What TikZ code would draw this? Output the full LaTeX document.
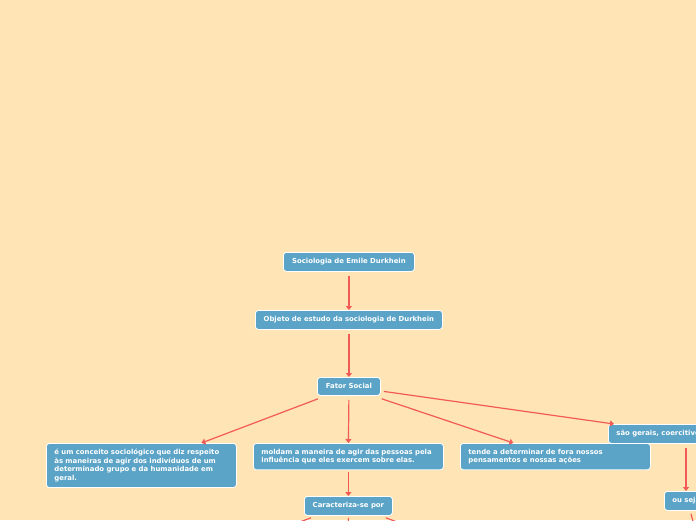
\documentclass[tikz,border=0pt]{standalone}
\usepackage{fontspec}
\setmainfont{DejaVu Sans}
\usetikzlibrary{arrows.meta}
\definecolor{bg}{HTML}{FFE4B5}
\definecolor{boxc}{HTML}{5BA4C7}
\definecolor{linec}{HTML}{F25A5A}
\newcommand\mbfont{\bfseries\fontsize{6.9}{8.7}\selectfont\hyphenpenalty=10000 \exhyphenpenalty=10000 \relax}
\tikzset{
 mbox/.style={fill=boxc, draw=white, line width=0.8pt, rounded corners=3pt, text=white,
   font=\mbfont, inner xsep=8pt, inner ysep=4.5pt, minimum height=19pt, anchor=north west},
 wbox/.style={mbox, text width=174pt, align=left, inner ysep=5.5pt},
 conn/.style={draw=linec, line width=1.2pt, -{Triangle[width=6pt,length=4pt]}},
}
\begin{document}
\begin{tikzpicture}[x=1pt,y=-1pt]
\useasboundingbox (0,0) rectangle (696,520);
\fill[bg] (0,0) rectangle (696,520);
\clip (0,0) rectangle (696,520);
\node[mbox, minimum width=131pt] (root) at (283,252) {Sociologia de Emile Durkhein};
\node[mbox, minimum width=187pt] (obj) at (255,310) {Objeto de estudo da sociologia de Durkhein};
\node[mbox, minimum width=63pt, minimum height=18pt] (fator) at (317,377) {Fator Social};
\node[wbox] (left) at (46,443) {é um conceito sociológico que diz respeito às maneiras de agir dos indivíduos de um determinado grupo e da humanidade em geral.};
\node[wbox] (mid) at (253,443) {moldam a maneira de agir das pessoas pela influência que eles exercem sobre elas.};
\node[wbox] (tende) at (460,443) {tende a determinar de fora nossos pensamentos e nossas ações};
\node[mbox] (sao) at (608,424) {são gerais, coercitivos};
\node[mbox] (ouseja) at (664,491) {ou seja};
\node[mbox, minimum width=88pt] (carac) at (304,496) {Caracteriza-se por};
\coordinate (cl) at (194,561);
\coordinate (cm) at (348,560);
\coordinate (cr) at (502,561);
\coordinate (od) at (700,548);
\draw[conn] ([yshift=-4pt]root.south) -- (obj.north);
\draw[conn] ([yshift=-4pt]obj.south) -- (fator.north);
\draw[conn] ([shift={(1pt,-3pt)}]fator.south west) -- ([xshift=60pt]left.north);
\draw[conn] ([yshift=-4pt]fator.south) -- (mid.north);
\draw[conn] ([shift={(1pt,-3pt)}]fator.south east) -- ([xshift=-42pt]tende.north);
\draw[conn] ([shift={(3pt,-5pt)}]fator.east) -- ([xshift=6pt]sao.north west);
\draw[conn] ([shift={(78pt,-4pt)}]sao.south west) -- ([xshift=22pt]ouseja.north west);
\draw[conn] ([yshift=-2pt]mid.south) -- (carac.north);
\draw[conn] ([shift={(7pt,-2pt)}]carac.south west) -- (cl);
\draw[conn] ([yshift=-2pt]carac.south) -- (cm);
\draw[conn] ([shift={(-7pt,-2pt)}]carac.south east) -- (cr);
\draw[conn] ([shift={(27pt,-3pt)}]ouseja.south west) -- (od);
\end{tikzpicture}
\end{document}
